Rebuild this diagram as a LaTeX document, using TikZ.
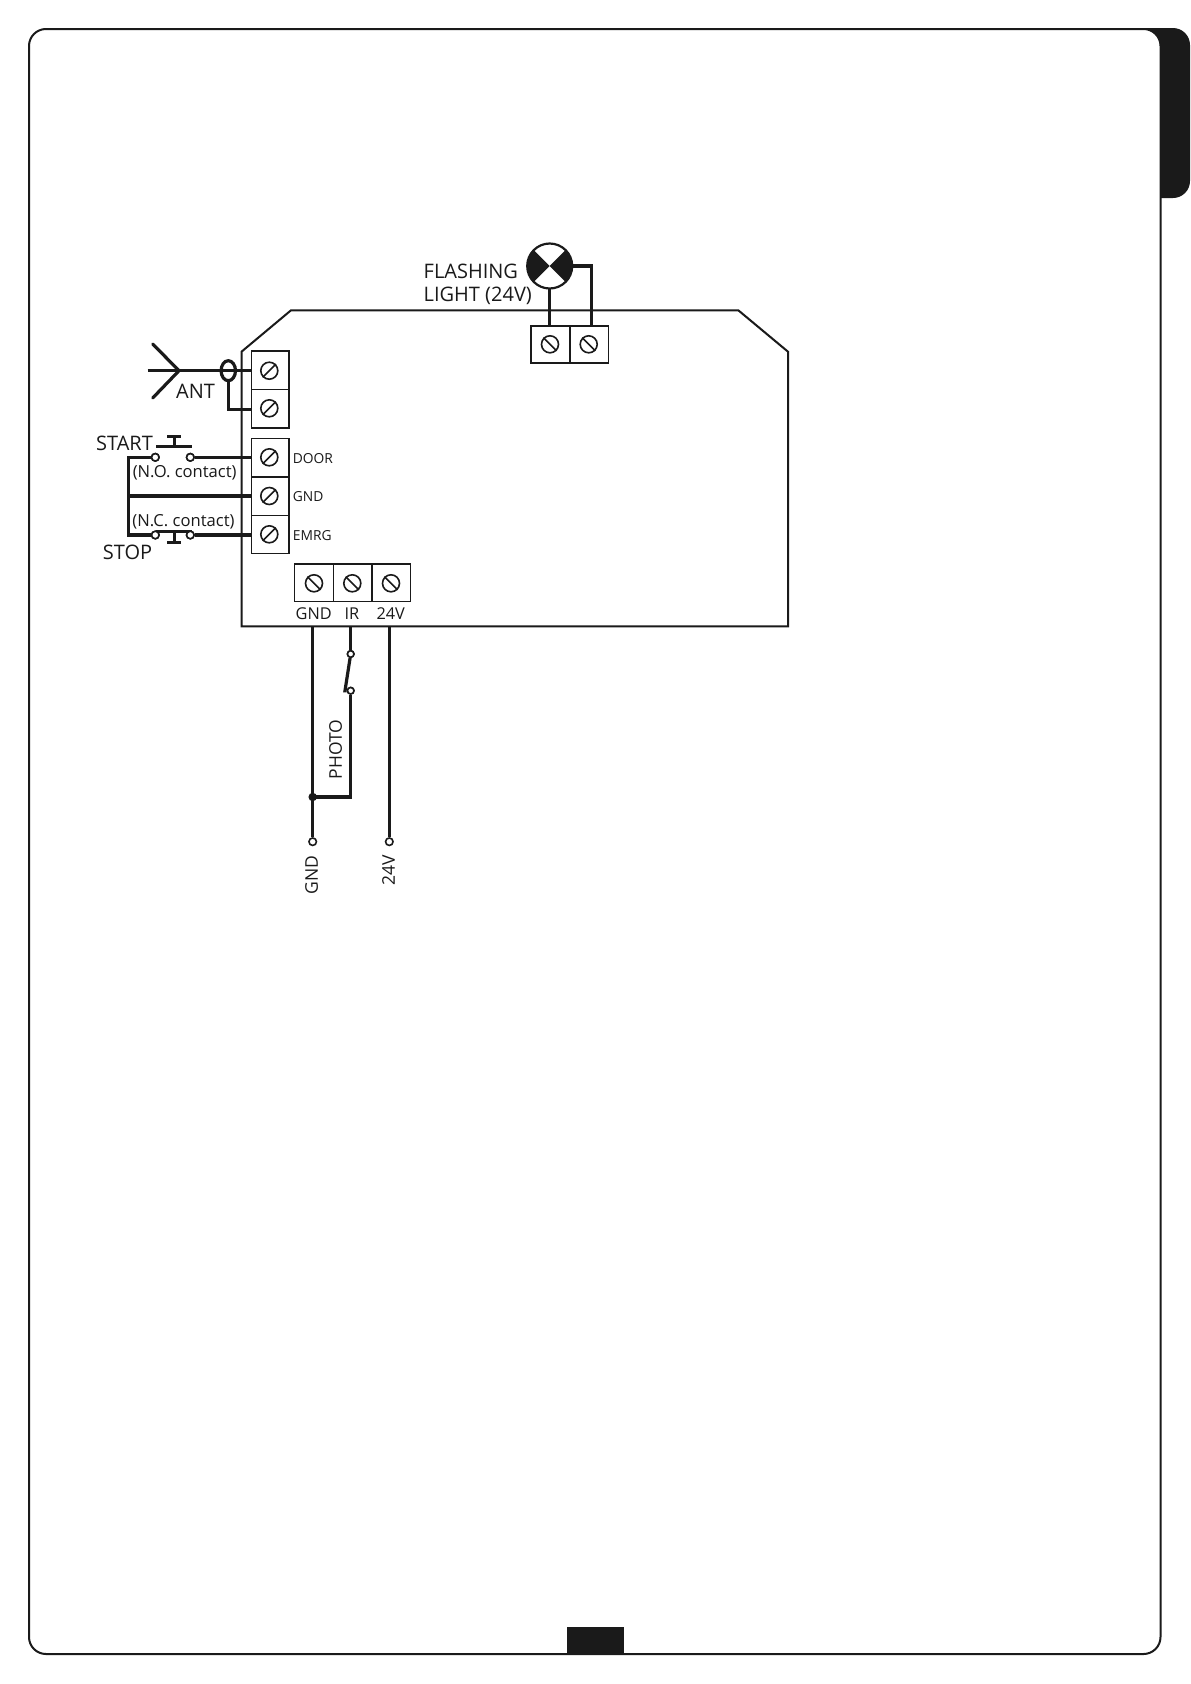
\documentclass[tikz,border=0pt]{standalone}
\usepackage{fontspec}
\setmainfont{Open Sans}
\definecolor{ink}{HTML}{1A1A1A}
\tikzset{
  x=1pt,y=-1pt,
  wire/.style={draw=ink,line width=3.2pt},
  thinline/.style={draw=ink,line width=2pt},
  tbox/.style={draw=ink,line width=1.6pt,fill=white},
  term/.style={circle,draw=ink,line width=1.6pt,minimum size=17pt,inner sep=0pt,fill=white},
  contact/.style={circle,draw=ink,line width=1.6pt,minimum size=7.5pt,inner sep=0pt,fill=white},
  lab/.style={inner sep=0pt,text=ink,font=\fontsize{20}{21}\selectfont},
  mid/.style={inner sep=0pt,text=ink,font=\fontsize{16.3}{17}\selectfont},
  small/.style={inner sep=0pt,text=ink,font=\fontsize{13.8}{14}\selectfont},
  cont/.style={inner sep=0pt,text=ink,font=\fontsize{16.6}{17}\selectfont},
  junction/.style={circle,fill=ink,minimum size=8.5pt,inner sep=0pt},
}
\newcommand{\screwA}[2]{% forward slash
  \node[term] (#1) at (#2) {};
  \draw[ink,line width=1.6pt] (#1.north east) -- (#1.south west);}
\newcommand{\screwB}[2]{% back slash
  \node[term] (#1) at (#2) {};
  \draw[ink,line width=1.6pt] (#1.north west) -- (#1.south east);}
\begin{document}
\begin{tikzpicture}
\useasboundingbox (0,0) rectangle (1191,1684);
\fill[white] (0,0) rectangle (1191,1684);
% page frame and tab
\draw[thinline,rounded corners=17pt] (29,29) rectangle (1160.5,1654);
\fill[ink] (1143,28) -- (1173,28) arc[start angle=-90,end angle=0,radius=17] -- (1190,181) arc[start angle=0,end angle=90,radius=17] -- (1160,198) -- (1160,46) arc[start angle=0,end angle=-90,radius=17] -- cycle;
\fill[ink] (567,1626.7) rectangle (624,1654.5);
% board
\draw[thinline,line join=miter] (241.5,626.3) -- (241.5,351.7) -- (291,310.3) -- (738.3,310.3) -- (788,351.7) -- (788,626.3) -- cycle;
% left terminals
\draw[tbox] (251.3,351) rectangle (288.7,389.3);
\draw[tbox] (251.3,389.3) rectangle (288.7,427.7);
\draw[tbox] (251.3,438.3) rectangle (288.7,476.7);
\draw[tbox] (251.3,476.7) rectangle (288.7,515.3);
\draw[tbox] (251.3,515.3) rectangle (288.7,553.3);
\screwA{ta}{269.3,370.7}
\screwA{tb}{269.3,408.3}
\screwA{tc}{269.3,457.3}
\screwA{td}{269.3,496}
\screwA{te}{269.3,534.3}
% bottom terminals
\draw[tbox] (294.3,564) rectangle (333.3,601.3);
\draw[tbox] (333.3,564) rectangle (372,601.3);
\draw[tbox] (372,564) rectangle (410.3,601.3);
\screwB{tf}{314,583.3}
\screwB{tg}{352.3,583.3}
\screwB{th}{391,583.3}
% top terminals
\draw[tbox] (530.7,326) rectangle (569.7,363);
\draw[tbox] (569.7,326) rectangle (608.3,363);
\screwB{ti}{550,344.3}
\screwB{tj}{588.7,344.3}
% flashing light
\node[circle,minimum size=45pt,inner sep=0pt] (lamp) at (549.7,266) {};
\begin{scope}
\clip (549.7,266) circle[radius=22.5pt];
\fill[ink] (549.7,266) -- (519.7,236) -- (519.7,296) -- cycle;
\fill[ink] (549.7,266) -- (579.7,236) -- (579.7,296) -- cycle;
\end{scope}
\draw[ink,line width=2.2pt] (549.7,266) circle[radius=22.5pt];
\coordinate (lampr) at (lamp.east);
\coordinate (tjtop) at (591.7,326);
\coordinate (titop) at (549.7,326);
\draw[wire] (lamp.south) -- (titop);
\draw[wire,line join=miter] (lampr) -- (tjtop |- lampr) -- (tjtop);
\node[lab,anchor=west] (flash) at (423.5,271.5) {FLASHING};
\node[lab,anchor=west] (light) at (423.5,295.5) {LIGHT (24V)};
% antenna
\coordinate (anta) at (147.7,370.7);
\coordinate (antb) at (179,370.7);
\coordinate (antc) at (152.7,344);
\coordinate (antd) at (152.7,398);
\coordinate (tal) at (251.3,370.7);
\coordinate (tbl) at (251.3,409.3);
\coordinate (loop) at (228.3,370.7);
\draw[wire] (anta) -- (tal);
\draw[wire,line cap=round,line join=miter] (antc) -- (antb) -- (antd);
\draw[wire,line join=miter] (loop) ++(0,10) -- (loop |- tbl) -- (tbl);
\draw[ink,line width=3.2pt] (loop) ellipse[x radius=7.2pt,y radius=10pt];
\node[lab,anchor=center] (ant) at (195.5,391.5) {ANT};
% start / stop contacts
\node[contact] (c1) at (155.3,457.3) {};
\node[contact] (c2) at (190.3,457.3) {};
\node[contact] (c3) at (155.3,535) {};
\node[contact] (c4) at (190.3,535) {};
\coordinate (tcl) at (251.3,457.3);
\coordinate (tdl) at (251.3,496);
\coordinate (tel) at (251.3,535);
\coordinate (bus) at (128.3,496);
\draw[wire] (c2) -- (tcl);
\draw[wire] (c4) -- (tel);
\draw[wire] (bus) -- (tdl);
\draw[wire,line join=miter] (c1) -- (bus |- c1) -- (bus |- c3) -- (c3);
\draw[wire] (156,446.7) -- (191.7,446.7);
\draw[wire] (174.3,446.7) -- (174.3,436.7);
\draw[wire] (167,436.7) -- (180.7,436.7);
\draw[wire] (156,531.7) -- (191.7,531.7);
\draw[wire] (174.3,531.7) -- (174.3,542.3);
\draw[wire] (167,542.3) -- (180.7,542.3);
\node[contact] at (c1) {};
\node[contact] at (c2) {};
\node[contact] at (c3) {};
\node[contact] at (c4) {};
\node[lab,anchor=center] (start) at (124.5,443.5) {START};
\node[lab,anchor=center] (stop) at (127.5,552) {STOP};
\node[cont,anchor=center] (no) at (184.7,473) {(N.O. contact)};
\node[cont,anchor=center] (nc) at (183.5,522) {(N.C. contact)};
\node[small,anchor=west] (door) at (292.7,459) {DOOR};
\node[small,anchor=west] (gnd1) at (292.7,497) {GND};
\node[small,anchor=west] (emrg) at (292.7,535.5) {EMRG};
% bottom labels
\node[mid] (gnd2) at (313.7,613.7) {GND};
\node[mid] (ir) at (352,613.7) {IR};
\node[mid] (v24) at (390.7,613.7) {24V};
% bottom wires
\node[contact] (gndend) at (312.7,841.7) {};
\node[contact] (vend) at (389.3,841.7) {};
\node[contact,minimum size=6.5pt] (sw1) at (350.7,654) {};
\node[contact,minimum size=6.5pt] (sw2) at (350.7,690.7) {};
\coordinate (gndtop) at (312.7,626.3);
\coordinate (irtop) at (350.7,626.3);
\coordinate (vtop) at (389.3,626.3);
\coordinate (tie) at (312.7,797);
\draw[wire] (gndtop) -- (gndend);
\draw[wire] (vtop) -- (vend);
\draw[wire] (irtop) -- (sw1);
\draw[wire,line join=miter] (sw1) -- (345,690.7) -- (sw2);
\draw[wire,line join=miter] (sw2) -- (sw2 |- tie) -- (tie);
\node[junction] (dot) at (tie) {};
\node[contact,minimum size=6.5pt] at (sw1) {};
\node[contact,minimum size=6.5pt] at (sw2) {};
\node[mid,rotate=90,font=\fontsize{17.5}{18}\selectfont] (photo) at (335.5,749.3) {PHOTO};
\node[mid,rotate=90,font=\fontsize{17.5}{18}\selectfont] (gnd3) at (311.5,874.7) {GND};
\node[mid,rotate=90,font=\fontsize{17.5}{18}\selectfont] (v24b) at (388.5,870) {24V};
\end{tikzpicture}
\end{document}
